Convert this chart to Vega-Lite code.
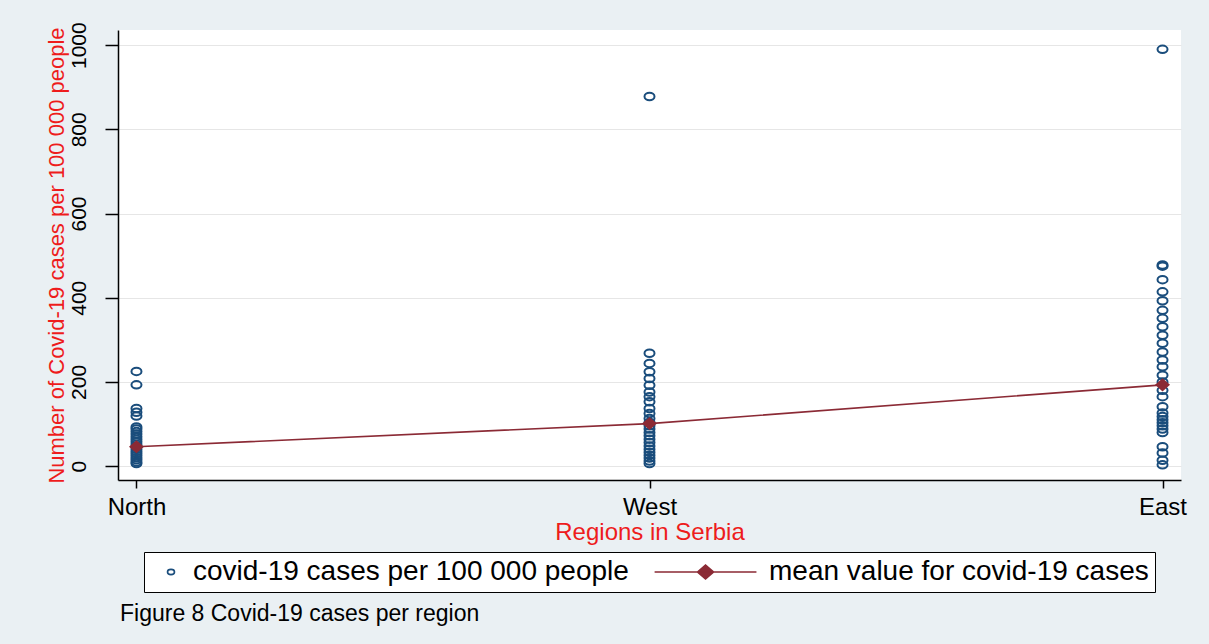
{
  "$schema": "https://vega.github.io/schema/vega-lite/v6.json",
  "width": 1063,
  "height": 450,
  "autosize": {"type": "none"},
  "padding": {"left": 118, "top": 30, "right": 28, "bottom": 164},
  "background": "#eaf0f3",
  "config": {
    "view": {"fill": "white", "stroke": null},
    "font": "Liberation Sans",
    "legend": {
      "layout": {"bottom": {"anchor": "middle"}},
      "orient": "bottom",
      "direction": "horizontal",
      "labelFont": "Liberation Sans",
      "labelFontSize": 28,
      "labelColor": "black",
      "labelLimit": 0,
      "labelOffset": 8,
      "symbolSize": 49,
      "symbolOffset": 7,
      "symbolStrokeWidth": 1.6,
      "strokeColor": "black",
      "fillColor": "white",
      "padding": 6,
      "columnPadding": 22,
      "offset": 8
    }
  },
  "title": {
    "text": "Figure 8 Covid-19 cases per region",
    "orient": "bottom",
    "anchor": "start",
    "font": "Liberation Sans",
    "fontSize": 23,
    "fontWeight": "normal",
    "color": "black",
    "offset": 10,
    "dx": 75
  },
  "datasets": {
    "cases": [
      {"region": "North", "value": 225, "series": "covid-19 cases per 100 000 people"},
      {"region": "North", "value": 193, "series": "covid-19 cases per 100 000 people"},
      {"region": "North", "value": 137, "series": "covid-19 cases per 100 000 people"},
      {"region": "North", "value": 128, "series": "covid-19 cases per 100 000 people"},
      {"region": "North", "value": 119, "series": "covid-19 cases per 100 000 people"},
      {"region": "North", "value": 93, "series": "covid-19 cases per 100 000 people"},
      {"region": "North", "value": 88, "series": "covid-19 cases per 100 000 people"},
      {"region": "North", "value": 82, "series": "covid-19 cases per 100 000 people"},
      {"region": "North", "value": 76, "series": "covid-19 cases per 100 000 people"},
      {"region": "North", "value": 70, "series": "covid-19 cases per 100 000 people"},
      {"region": "North", "value": 64, "series": "covid-19 cases per 100 000 people"},
      {"region": "North", "value": 58, "series": "covid-19 cases per 100 000 people"},
      {"region": "North", "value": 52, "series": "covid-19 cases per 100 000 people"},
      {"region": "North", "value": 46, "series": "covid-19 cases per 100 000 people"},
      {"region": "North", "value": 40, "series": "covid-19 cases per 100 000 people"},
      {"region": "North", "value": 35, "series": "covid-19 cases per 100 000 people"},
      {"region": "North", "value": 30, "series": "covid-19 cases per 100 000 people"},
      {"region": "North", "value": 25, "series": "covid-19 cases per 100 000 people"},
      {"region": "North", "value": 20, "series": "covid-19 cases per 100 000 people"},
      {"region": "North", "value": 15, "series": "covid-19 cases per 100 000 people"},
      {"region": "North", "value": 10, "series": "covid-19 cases per 100 000 people"},
      {"region": "North", "value": 6, "series": "covid-19 cases per 100 000 people"},
      {"region": "West", "value": 878, "series": "covid-19 cases per 100 000 people"},
      {"region": "West", "value": 268, "series": "covid-19 cases per 100 000 people"},
      {"region": "West", "value": 244, "series": "covid-19 cases per 100 000 people"},
      {"region": "West", "value": 224, "series": "covid-19 cases per 100 000 people"},
      {"region": "West", "value": 208, "series": "covid-19 cases per 100 000 people"},
      {"region": "West", "value": 192, "series": "covid-19 cases per 100 000 people"},
      {"region": "West", "value": 176, "series": "covid-19 cases per 100 000 people"},
      {"region": "West", "value": 165, "series": "covid-19 cases per 100 000 people"},
      {"region": "West", "value": 153, "series": "covid-19 cases per 100 000 people"},
      {"region": "West", "value": 137, "series": "covid-19 cases per 100 000 people"},
      {"region": "West", "value": 125, "series": "covid-19 cases per 100 000 people"},
      {"region": "West", "value": 113, "series": "covid-19 cases per 100 000 people"},
      {"region": "West", "value": 104, "series": "covid-19 cases per 100 000 people"},
      {"region": "West", "value": 96, "series": "covid-19 cases per 100 000 people"},
      {"region": "West", "value": 88, "series": "covid-19 cases per 100 000 people"},
      {"region": "West", "value": 80, "series": "covid-19 cases per 100 000 people"},
      {"region": "West", "value": 72, "series": "covid-19 cases per 100 000 people"},
      {"region": "West", "value": 64, "series": "covid-19 cases per 100 000 people"},
      {"region": "West", "value": 56, "series": "covid-19 cases per 100 000 people"},
      {"region": "West", "value": 48, "series": "covid-19 cases per 100 000 people"},
      {"region": "West", "value": 40, "series": "covid-19 cases per 100 000 people"},
      {"region": "West", "value": 33, "series": "covid-19 cases per 100 000 people"},
      {"region": "West", "value": 26, "series": "covid-19 cases per 100 000 people"},
      {"region": "West", "value": 19, "series": "covid-19 cases per 100 000 people"},
      {"region": "West", "value": 12, "series": "covid-19 cases per 100 000 people"},
      {"region": "West", "value": 6, "series": "covid-19 cases per 100 000 people"},
      {"region": "East", "value": 990, "series": "covid-19 cases per 100 000 people"},
      {"region": "East", "value": 478, "series": "covid-19 cases per 100 000 people"},
      {"region": "East", "value": 475, "series": "covid-19 cases per 100 000 people"},
      {"region": "East", "value": 443, "series": "covid-19 cases per 100 000 people"},
      {"region": "East", "value": 414, "series": "covid-19 cases per 100 000 people"},
      {"region": "East", "value": 393, "series": "covid-19 cases per 100 000 people"},
      {"region": "East", "value": 370, "series": "covid-19 cases per 100 000 people"},
      {"region": "East", "value": 351, "series": "covid-19 cases per 100 000 people"},
      {"region": "East", "value": 331, "series": "covid-19 cases per 100 000 people"},
      {"region": "East", "value": 311, "series": "covid-19 cases per 100 000 people"},
      {"region": "East", "value": 292, "series": "covid-19 cases per 100 000 people"},
      {"region": "East", "value": 271, "series": "covid-19 cases per 100 000 people"},
      {"region": "East", "value": 252, "series": "covid-19 cases per 100 000 people"},
      {"region": "East", "value": 236, "series": "covid-19 cases per 100 000 people"},
      {"region": "East", "value": 216, "series": "covid-19 cases per 100 000 people"},
      {"region": "East", "value": 200, "series": "covid-19 cases per 100 000 people"},
      {"region": "East", "value": 180, "series": "covid-19 cases per 100 000 people"},
      {"region": "East", "value": 165, "series": "covid-19 cases per 100 000 people"},
      {"region": "East", "value": 141, "series": "covid-19 cases per 100 000 people"},
      {"region": "East", "value": 126, "series": "covid-19 cases per 100 000 people"},
      {"region": "East", "value": 118, "series": "covid-19 cases per 100 000 people"},
      {"region": "East", "value": 110, "series": "covid-19 cases per 100 000 people"},
      {"region": "East", "value": 103, "series": "covid-19 cases per 100 000 people"},
      {"region": "East", "value": 96, "series": "covid-19 cases per 100 000 people"},
      {"region": "East", "value": 88, "series": "covid-19 cases per 100 000 people"},
      {"region": "East", "value": 80, "series": "covid-19 cases per 100 000 people"},
      {"region": "East", "value": 46, "series": "covid-19 cases per 100 000 people"},
      {"region": "East", "value": 31, "series": "covid-19 cases per 100 000 people"},
      {"region": "East", "value": 14, "series": "covid-19 cases per 100 000 people"},
      {"region": "East", "value": 3, "series": "covid-19 cases per 100 000 people"}
    ],
    "means": [
      {"region": "North", "value": 46, "series": "mean value for covid-19 cases"},
      {"region": "West", "value": 101, "series": "mean value for covid-19 cases"},
      {"region": "East", "value": 193, "series": "mean value for covid-19 cases"}
    ]
  },
  "encoding": {
    "x": {
      "field": "region",
      "type": "nominal",
      "sort": ["North", "West", "East"],
      "scale": {"type": "point", "padding": 0.036},
      "axis": {
        "title": "Regions in Serbia",
        "titleColor": "#ee1c1c",
        "titleFont": "Liberation Sans",
        "titleFontSize": 24,
        "titleFontWeight": "normal",
        "titlePadding": 1,
        "labelAngle": 0,
        "labelFont": "Liberation Sans",
        "labelFontSize": 24,
        "labelColor": "black",
        "labelPadding": 7,
        "domainColor": "black",
        "domainWidth": 1.5,
        "tickColor": "black",
        "tickWidth": 1.5,
        "tickSize": 8,
        "grid": false
      }
    },
    "y": {
      "field": "value",
      "type": "quantitative",
      "scale": {"domain": [-33, 1036], "nice": false, "zero": false},
      "axis": {
        "title": "Number of Covid-19 cases per 100 000 people",
        "titleColor": "#ee1c1c",
        "titleFont": "Liberation Sans",
        "titleFontSize": 22,
        "titleFontWeight": "normal",
        "titlePadding": 0,
        "values": [0, 200, 400, 600, 800, 1000],
        "format": "d",
        "labelAngle": -90,
        "labelFont": "Liberation Sans",
        "labelFontSize": 21,
        "labelColor": "black",
        "labelPadding": 16,
        "domainColor": "black",
        "domainWidth": 1.5,
        "tickColor": "black",
        "tickWidth": 1.5,
        "tickSize": 13,
        "grid": true,
        "gridColor": "#e6e6e6",
        "gridWidth": 1
      }
    }
  },
  "layer": [
    {
      "data": {"name": "cases"},
      "mark": {
        "type": "point",
        "filled": true,
        "size": 100,
        "strokeWidth": 2,
        "opacity": 1
      },
      "encoding": {
        "stroke": {
          "field": "series",
          "type": "nominal",
          "scale": {
            "domain": ["covid-19 cases per 100 000 people", "mean value for covid-19 cases"],
            "range": ["#1a4d7c", "#8b2a35"]
          },
          "legend": {"title": null, "orient": "bottom", "direction": "horizontal"}
        },
        "fill": {
          "field": "series",
          "type": "nominal",
          "scale": {
            "domain": ["covid-19 cases per 100 000 people", "mean value for covid-19 cases"],
            "range": ["transparent", "#8b2a35"]
          },
          "legend": {"title": null, "orient": "bottom", "direction": "horizontal"}
        },
        "shape": {
          "field": "series",
          "type": "nominal",
          "scale": {
            "domain": ["covid-19 cases per 100 000 people", "mean value for covid-19 cases"],
            "range": [
              "M-1,0A1,0.75 0 1,0 1,0A1,0.75 0 1,0 -1,0Z",
              "M-26.4,0L2.7,0M-14.15,0L-11.85,-2L-9.55,0L-11.85,2Z"
            ]
          },
          "legend": {"title": null, "orient": "bottom", "direction": "horizontal"}
        }
      }
    },
    {
      "data": {"name": "means"},
      "mark": {"type": "line", "color": "#8b2a35", "strokeWidth": 1.6},
      "encoding": {"order": {"value": null}}
    },
    {
      "data": {"name": "means"},
      "mark": {
        "type": "point",
        "filled": true,
        "shape": "M-1,0L0,-0.87L1,0L0,0.87Z",
        "size": 225,
        "color": "#8b2a35",
        "opacity": 1
      }
    }
  ]
}
